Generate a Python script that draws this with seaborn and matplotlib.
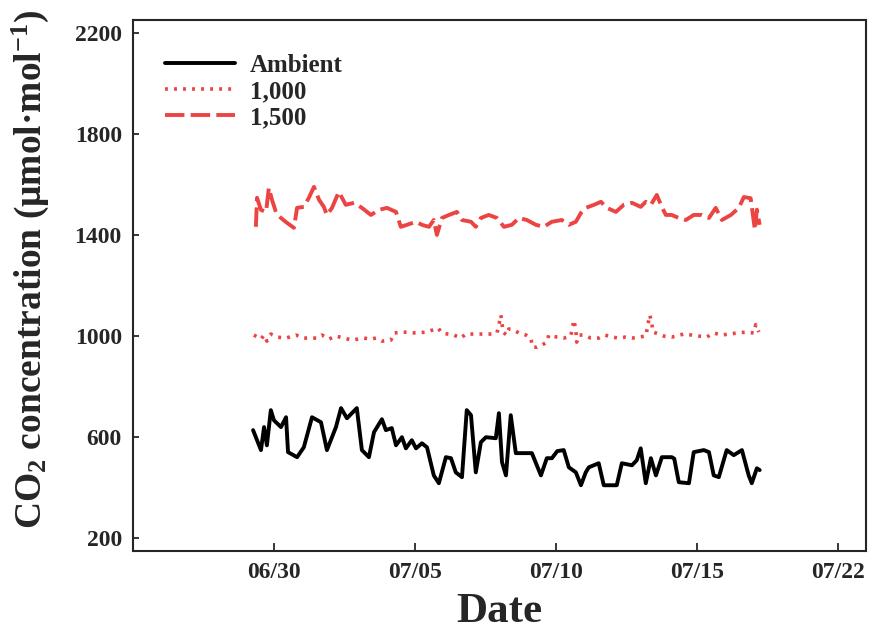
import matplotlib
matplotlib.use("Agg")
import matplotlib.pyplot as plt
import seaborn as sns

sns.set_style("ticks")
plt.rcParams["font.family"] = ["Liberation Serif", "DejaVu Serif"]
plt.rcParams["font.weight"] = "bold"
plt.rcParams["mathtext.default"] = "regular"

# days after 06/30 and CO2 concentration (umol/mol)
amb_day = [-0.74, -0.46, -0.35, -0.25, -0.11, 0.00, 0.25, 0.43, 0.50, 0.82, 1.06, 1.35,
           1.67, 1.88, 2.20, 2.38, 2.59, 2.94, 3.12, 3.37, 3.55, 3.83, 3.97, 4.18, 4.33,
           4.54, 4.68, 4.89, 5.04, 5.25, 5.43, 5.67, 5.85, 6.10, 6.28, 6.45, 6.67, 6.84,
           6.99, 7.16, 7.34, 7.52, 7.87, 7.98, 8.09, 8.23, 8.40, 8.58, 9.15, 9.47, 9.68,
           9.86, 10.05, 10.28, 10.46, 10.71, 10.89, 11.06, 11.17, 11.52, 11.70, 12.16, 12.34,
           12.70, 12.87, 13.01, 13.19, 13.37, 13.55, 13.76, 14.11, 14.20, 14.36, 14.72, 14.89,
           15.25, 15.43, 15.60, 15.78, 16.06, 16.31, 16.60, 16.84, 16.95, 17.13, 17.23]
amb_co2 = [628, 549, 640, 568, 707, 667, 640, 679, 541, 521, 560, 679,
           659, 549, 640, 715, 675, 715, 549, 521, 620, 671, 628, 636, 568,
           600, 556, 588, 556, 576, 560, 449, 418, 521, 517, 461, 442, 707,
           687, 461, 580, 600, 596, 695, 501, 449, 687, 537, 537, 449, 517,
           517, 545, 549, 481, 461, 410, 461, 481, 497, 410, 410, 497,
           489, 509, 556, 418, 517, 449, 521, 521, 515, 422, 418, 541,
           549, 541, 449, 442, 549, 529, 549, 449, 418, 477, 470]

t1000_day = [-0.71, -0.46, -0.35, -0.25, -0.11, 0.11, 0.43, 0.78, 1.06, 1.52, 1.70, 1.95,
             2.20, 2.48, 2.77, 3.19, 3.44, 3.62, 3.83, 4.15, 4.26, 4.54, 5.04, 5.43,
             5.82, 5.96, 6.38, 6.63, 6.81, 7.27, 7.73, 7.91, 7.98, 8.05, 8.09, 8.12,
             8.26, 8.33, 8.51, 8.69, 8.94, 9.11, 9.18, 9.33, 9.50, 9.68, 9.75, 10.04,
             10.28, 10.53, 10.64, 10.71, 10.74, 10.82, 10.99, 11.24, 11.52, 11.74, 11.99,
             12.23, 12.48, 12.70, 12.94, 13.19, 13.33, 13.40, 13.44, 13.55, 13.83, 14.11,
             14.54, 14.82, 15.07, 15.35, 15.60, 15.89, 16.13, 16.42, 16.77, 17.02, 17.09,
             17.20]
t1000_co2 = [1004, 988, 1004, 980, 1008, 996, 992, 1004, 992, 992, 1004, 988,
             1000, 992, 984, 992, 988, 992, 980, 984, 1012, 1016, 1012, 1016,
             1032, 1012, 1004, 992, 1008, 1008, 1008, 1012, 1044, 1083, 1051, 1016,
             1004, 1028, 1024, 1012, 1004, 992, 956, 956, 964, 976, 1004, 996,
             992, 1000, 1063, 1024, 976, 1004, 1004, 992, 992, 1004, 996,
             992, 996, 992, 996, 1000, 1083, 1055, 1016, 1012, 1000, 996,
             1008, 1004, 1000, 996, 1012, 1004, 1008, 1012, 1016, 1012, 1045,
             1016]

t1500_day = [-0.64, -0.60, -0.46, -0.28, -0.18, -0.07, 0.07, 0.25, 0.46, 0.71, 0.82, 1.06,
             1.24, 1.42, 1.60, 1.77, 1.88, 2.06, 2.30, 2.55, 2.84, 3.12, 3.44, 3.72,
             4.01, 4.33, 4.50, 4.72, 5.04, 5.25, 5.50, 5.67, 5.78, 5.96, 6.21, 6.49,
             6.67, 6.99, 7.16, 7.34, 7.62, 7.91, 8.16, 8.44, 8.69, 8.97, 9.29, 9.57,
             9.86, 10.21, 10.46, 10.71, 10.89, 11.06, 11.35, 11.60, 11.81, 12.13, 12.41,
             12.70, 13.01, 13.19, 13.37, 13.58, 13.76, 13.90, 14.11, 14.36, 14.61, 14.89,
             15.18, 15.43, 15.67, 15.89, 16.21, 16.49, 16.67, 16.91, 17.06, 17.13, 17.23]
t1500_co2 = [1432, 1547, 1499, 1491, 1586, 1539, 1491, 1467, 1448, 1428, 1507, 1511,
             1547, 1590, 1539, 1511, 1479, 1507, 1570, 1519, 1527, 1507, 1479, 1499,
             1507, 1491, 1432, 1440, 1452, 1440, 1432, 1459, 1400, 1467, 1479, 1491,
             1459, 1452, 1432, 1467, 1479, 1467, 1432, 1440, 1467, 1459, 1440, 1432,
             1452, 1459, 1440, 1452, 1487, 1507, 1519, 1531, 1507, 1491, 1519,
             1527, 1511, 1531, 1519, 1558, 1511, 1479, 1479, 1467, 1459, 1479,
             1479, 1467, 1507, 1459, 1479, 1507, 1550, 1545, 1420, 1500, 1440]

tick_pos = [0, 5, 10, 15, 20]
tick_lab = ["06/30", "07/05", "07/10", "07/15", "07/22"]
red = "#EC4343"

fig = plt.figure(figsize=(8.9, 6.43), dpi=100)
ax = fig.add_axes([0.1494, 0.1431, 0.8236, 0.8258])

sns.lineplot(x=amb_day, y=amb_co2, ax=ax, color="black", lw=2.8,
             sort=False, estimator=None, label="Ambient")
sns.lineplot(x=t1000_day, y=t1000_co2, ax=ax, color=red, lw=2.6,
             linestyle=(0, (0.8, 1.7)), sort=False, estimator=None, label="1,000")
sns.lineplot(x=t1500_day, y=t1500_co2, ax=ax, color=red, lw=2.8,
             linestyle=(0, (5, 1.6)), sort=False, estimator=None, label="1,500")

ax.set_xlim(-5, 21)
ax.set_ylim(150, 2250)
ax.set_xticks(tick_pos)
ax.set_xticklabels(tick_lab)
ax.set_yticks([200, 600, 1000, 1400, 1800, 2200])
ax.tick_params(axis="both", direction="in", labelsize=17, width=1.3)
ax.tick_params(axis="x", length=6, pad=8)
ax.tick_params(axis="y", length=4, pad=8)
for lab in ax.get_xticklabels() + ax.get_yticklabels():
    lab.set_fontweight("bold")
for sp in ax.spines.values():
    sp.set_linewidth(1.5)

ax.set_xlabel("Date", fontsize=31, fontweight="bold", labelpad=7)
ax.set_ylabel(r"CO$_2$ concentration (μmol·mol$^{-1}$)", fontsize=27,
              fontweight="bold")
ax.yaxis.set_label_coords(-0.112, 0.53)

ax.legend(loc="upper left", bbox_to_anchor=(0.013, 0.978), frameon=False,
          prop={"size": 18, "weight": "bold"}, handlelength=2.8,
          handletextpad=0.6, labelspacing=0.12)

fig.savefig("out.png", dpi=100)
